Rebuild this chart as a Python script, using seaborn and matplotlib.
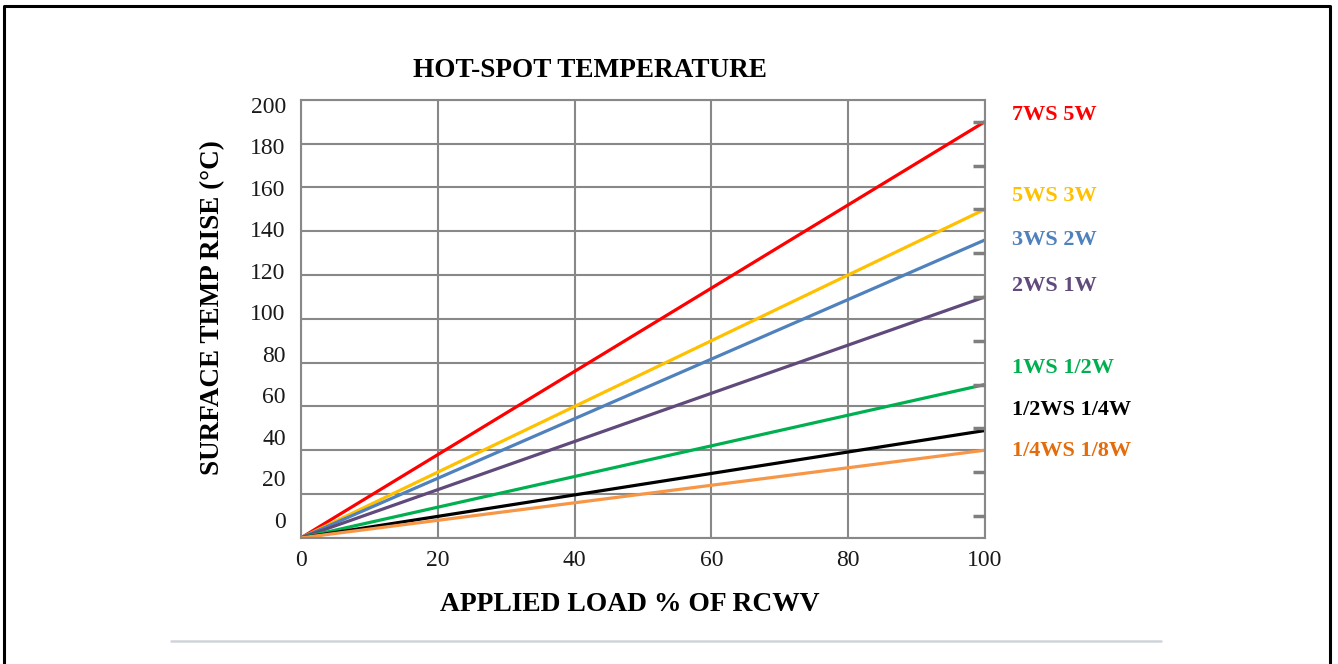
import numpy as np
import pandas as pd
import seaborn as sns
import matplotlib.pyplot as plt
from matplotlib.lines import Line2D

# data
load_pct = [0, 100]
series_names = ["7WS 5W", "5WS 3W", "3WS 2W", "2WS 1W", "1WS 1/2W", "1/2WS 1/4W", "1/4WS 1/8W"]
temp_at_0 = [0, 0, 0, 0, 0, 0, 0]
temp_at_100 = [190, 150, 136, 110, 70, 49, 40]
line_colors = ["#FF0000", "#FFC000", "#4F81BD", "#604A7B", "#00B050", "#000000", "#F79646"]
label_colors = ["#FF0000", "#FFC000", "#4F81BD", "#604A7B", "#00B050", "#000000", "#E46C0A"]
ytick_labels = [str(v) for v in range(0, 201, 20)]
xtick_values = [0, 20, 40, 60, 80, 100]

# build a long-form table for seaborn
rows = []
for name, t0, t100 in zip(series_names, temp_at_0, temp_at_100):
    rows.append({"load": load_pct[0], "temp": t0, "series": name})
    rows.append({"load": load_pct[1], "temp": t100, "series": name})
df = pd.DataFrame(rows)

sns.set_style("white")
plt.rcParams['font.family'] = ['Liberation Serif', 'DejaVu Serif']
plt.rcParams['text.color'] = 'black'

fig = plt.figure(figsize=(13.38, 6.64), dpi=100)
ax = fig.add_axes([0.225, 0.19, 0.511, 0.6596])

sns.lineplot(data=df, x="load", y="temp", hue="series", hue_order=series_names,
             palette=dict(zip(series_names, line_colors)), linewidth=2.3,
             legend=False, ax=ax)

ax.set_xlim(0, 100)
ax.set_ylim(0, 200)

grid_gray = "#888888"
ax.set_xticks(xtick_values)
ax.set_xticklabels([str(v) for v in xtick_values])
# the reference's y labels sit slightly off the gridlines
ax.set_yticks(np.linspace(8.2, 197.7, len(ytick_labels)))
ax.set_yticklabels(ytick_labels)
ax.set_yticks(range(0, 201, 20), minor=True)
ax.tick_params(axis='y', which='both', length=0)
ax.tick_params(axis='y', which='major', pad=11, labelsize=17, labelcolor="#1a1a1a")
ax.tick_params(axis='x', length=0, pad=9, labelsize=17, labelcolor="#1a1a1a")
ax.grid(True, axis='x', which='major', color=grid_gray, linewidth=1.5)
ax.grid(True, axis='y', which='minor', color=grid_gray, linewidth=1.5)
ax.grid(False, axis='y', which='major')
for sp in ax.spines.values():
    sp.set_color(grid_gray)
    sp.set_linewidth(1.5)

# inward ticks on the right side
ax2 = ax.twinx()
ax2.set_ylim(0, 200)
ax2.set_yticks(range(10, 200, 20))
ax2.tick_params(axis='y', direction='in', length=9, width=2.5, color="#7F7F7F", labelright=False)
for sp in ax2.spines.values():
    sp.set_visible(False)

ax.set_xlabel("")
ax.set_ylabel("")
fig.text(0.441, 0.894, "HOT-SPOT TEMPERATURE", ha='center', va='center',
         fontsize=19.6, fontweight='bold')
fig.text(0.471, 0.09, "APPLIED LOAD % OF RCWV", ha='center', va='center',
         fontsize=19.8, fontweight='bold')
fig.text(0.159, 0.537, "SURFACE TEMP RISE (°C)", ha='center', va='center',
         rotation=90, fontsize=19.5, fontweight='bold')

# series labels to the right of the plot
label_y = [193, 156, 136, 115, 77.5, 58.5, 39.5]
for name, yv, col in zip(series_names, label_y, label_colors):
    ax.text(104, yv, name, color=col, fontsize=16, fontweight='bold',
            ha='left', va='center', clip_on=False)

# page decorations: frame and separator line
fig.add_artist(Line2D([0.0027, 0.0027, 0.994, 0.994], [0.0, 0.991, 0.991, 0.0],
                      color='black', linewidth=2.2))
fig.add_artist(Line2D([0.128, 0.868], [0.035, 0.035], color='#D0D4D9', linewidth=1.8))

fig.savefig("out.png", dpi=100)
